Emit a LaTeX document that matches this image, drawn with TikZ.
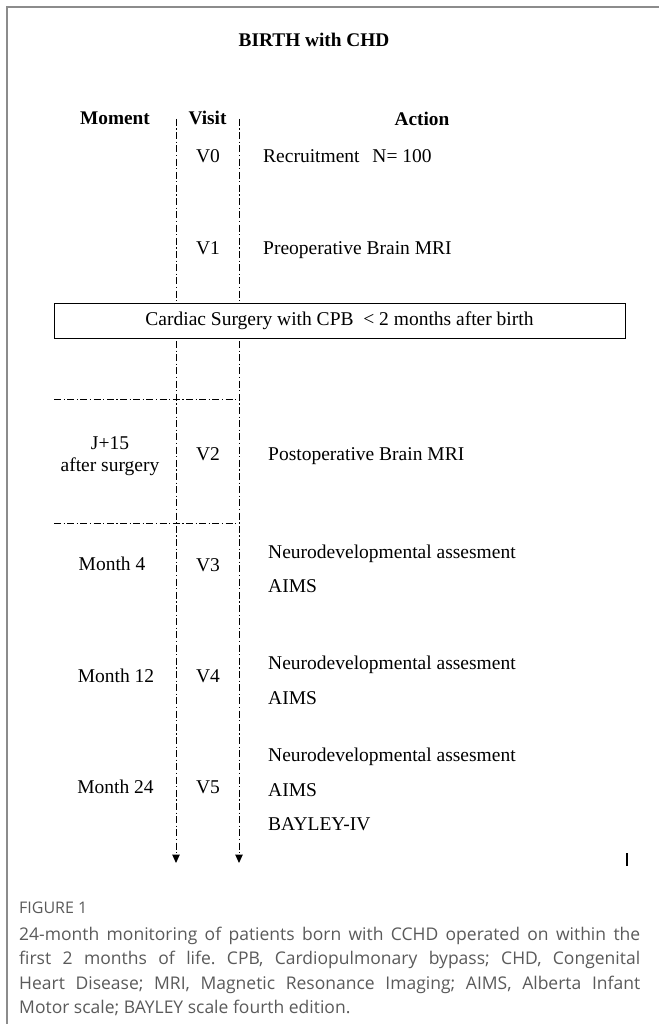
\documentclass[tikz,border=0pt]{standalone}
\usepackage{fontspec}
\setmainfont{Liberation Serif}
\newfontfamily\capfont{Open Sans}
\usetikzlibrary{arrows.meta}
\definecolor{framegray}{HTML}{8C8C8C}
\definecolor{capgray}{HTML}{5A5A5A}
\begin{document}
\begin{tikzpicture}[x=1pt,y=1pt,
  dashdot/.style={line width=1pt, dash pattern=on 7pt off 2.5pt on 1.2pt off 2.5pt},
  hdr/.style={font=\fontsize{19.3}{22}\selectfont\bfseries, inner sep=0},
  txt/.style={font=\fontsize{19.5}{22.5}\selectfont, inner sep=0, text height=13pt, text depth=4pt},
  act/.style={txt, anchor=west},
  tip/.style={-{Triangle[width=7.5pt,length=8.5pt]}}]
\useasboundingbox (0,0) rectangle (659,-1024);
% frame
\draw[framegray, line width=1.5pt] (7,-1024) -- (7,-7) -- (659,-7);
% title and headers
\node[hdr] (title) at (314,-40) {BIRTH with CHD};
\node[hdr] (hmoment) at (115,-118) {Moment};
\node[hdr] (hvisit) at (207.5,-118) {Visit};
\node[hdr] (haction) at (422,-119) {Action};
% before surgery
\node[txt] (v0) at (208,-158) {V0};
\node[act] (a0) at (263,-158) {Recruitment\hspace{8pt} N= 100};
\node[txt] (v1) at (208,-250) {V1};
\node[act] (a1) at (263,-250) {Preoperative Brain MRI};
% surgery box
\node[draw, line width=1pt, minimum width=571pt, minimum height=35pt, inner sep=0,
      font=\fontsize{19.5}{22.5}\selectfont] (surg) at (339.5,-320.5)
      {Cardiac Surgery with CPB~~< 2 months after birth};
% after surgery
\node[txt, align=center, text height=, text depth=] (m2) at (110,-456) {J+15\\after surgery};
\node[txt] (v2) at (208,-456) {V2};
\node[act] (a2) at (268,-456) {Postoperative Brain MRI};
\node[txt] (m3) at (112,-566) {Month 4};
\node[txt] (v3) at (208,-567) {V3};
\node[act] (a3a) at (268,-554) {Neurodevelopmental assesment};
\node[act] (a3b) at (268,-588) {AIMS};
\node[txt] (m4) at (116,-678) {Month 12};
\node[txt] (v4) at (208,-678) {V4};
\node[act] (a4a) at (268,-665) {Neurodevelopmental assesment};
\node[act] (a4b) at (268,-700) {AIMS};
\node[txt] (m5) at (115.5,-789) {Month 24};
\node[txt] (v5) at (208,-789) {V5};
\node[act] (a5a) at (268,-757) {Neurodevelopmental assesment};
\node[act] (a5b) at (268,-792) {AIMS};
\node[act] (a5c) at (268,-826) {BAYLEY-IV};
% timeline lines
\coordinate (Ltop) at (176,-119);
\coordinate (Rtop) at (239,-119);
\coordinate (Lmid) at (176,-341);
\coordinate (Rmid) at (239,-341);
\coordinate (Lbot) at (176,-863);
\coordinate (Rbot) at (239,-863);
\draw[dashdot] (Ltop) -- (Ltop |- surg.north);
\draw[dashdot] (Rtop) -- (Rtop |- surg.north);
\draw[dashdot, tip] (Lmid) -- (Lbot);
\draw[dashdot, tip] (Rmid) -- (Rbot);
\coordinate (h1) at (54,-399);
\coordinate (h2) at (54,-523);
\draw[dashdot] (h1) -- (h1 -| Rtop);
\draw[dashdot] (h2) -- (h2 -| Rtop);
% small mark
\draw[line width=2.2pt] (627.3,-853) -- (627.3,-866);
% caption
\node[anchor=base west, inner sep=0, text=capgray, font=\capfont\fontsize{16}{18}\selectfont] (figlabel) at (19,-913) {FIGURE 1};
\node[anchor=base west, inner sep=0, text=capgray] (caption) at (19,-940)
  {\parbox[t]{621pt}{\capfont\fontsize{17.5}{24.5}\selectfont\frenchspacing\hyphenpenalty=10000\exhyphenpenalty=10000
  24-month monitoring of patients born with CCHD operated on within the\linebreak
  first 2 months of life. CPB, Cardiopulmonary bypass; CHD, Congenital\linebreak
  Heart Disease; MRI, Magnetic Resonance Imaging; AIMS, Alberta Infant\linebreak
  Motor scale; BAYLEY scale fourth edition.}};
\end{tikzpicture}
\end{document}
